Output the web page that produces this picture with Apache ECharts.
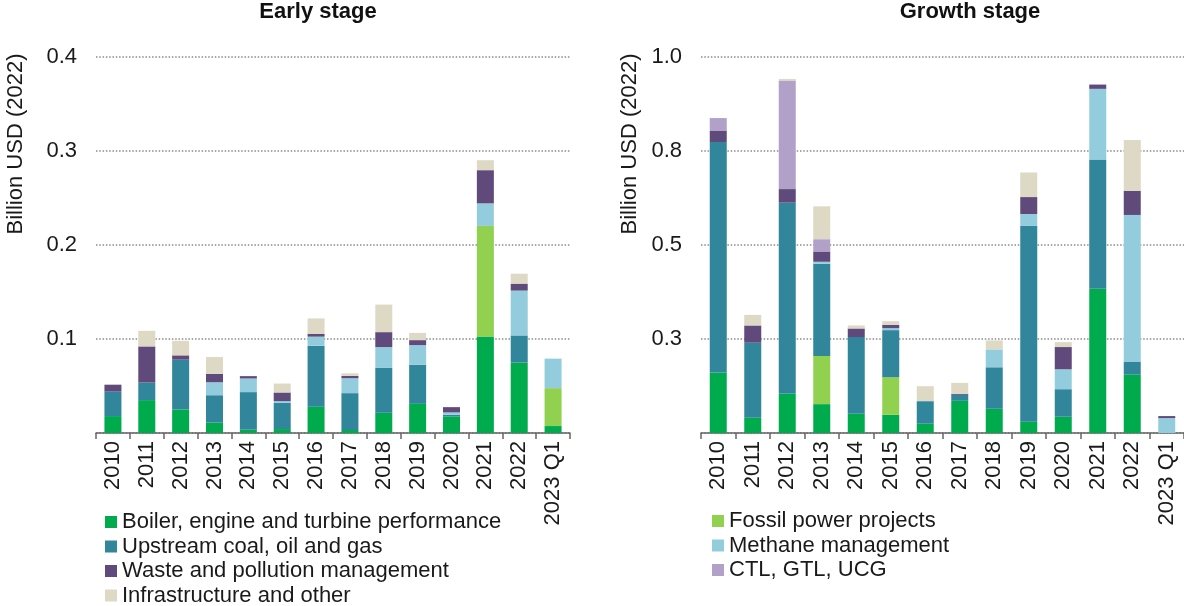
<!DOCTYPE html>
<html>
<head>
<meta charset="utf-8">
<script src="https://cdn.jsdelivr.net/npm/echarts@6/dist/echarts.min.js"></script>
<style>
html,body{margin:0;padding:0;background:#fff;}
#chart{width:1184px;height:606px;}
</style>
</head>
<body>
<div id="chart"></div>
<script>
var categories = ['2010','2011','2012','2013','2014','2015','2016','2017','2018','2019','2020','2021','2022','2023 Q1'];

var seriesNames = [
  'Boiler, engine and turbine performance',
  'Fossil power projects',
  'Upstream coal, oil and gas',
  'Methane management',
  'Waste and pollution management',
  'CTL, GTL, UCG',
  'Infrastructure and other'
];
var seriesColors = ['#00ab4e','#92d050','#31869b','#93cddd','#604a7b','#b1a0c7','#ddd9c4'];

var leftLegendNames = ['Boiler, engine and turbine performance','Upstream coal, oil and gas','Waste and pollution management','Infrastructure and other'];
var rightLegendNames = ['Fossil power projects','Methane management','CTL, GTL, UCG'];

var leftTickLabels = ['', '0.1', '0.2', '0.3', '0.4'];
var rightTickLabels = ['', '0.3', '0.5', '0.8', '1.0'];

// Early stage (billion USD 2022)
var earlyBoiler   = [0.018, 0.035, 0.025, 0.011, 0.0035, 0.0042, 0.028, 0.0032, 0.0215, 0.031, 0.0177, 0.1027, 0.0748, 0.0074];
var earlyFossil   = [0, 0, 0, 0, 0, 0, 0, 0, 0, 0, 0, 0.1176, 0, 0.0403];
var earlyUpstream = [0.026, 0.0187, 0.053, 0.0292, 0.040, 0.0279, 0.0649, 0.0392, 0.0477, 0.0416, 0.0017, 0, 0.029, 0];
var earlyMethane  = [0, 0, 0, 0.0138, 0.0145, 0.0018, 0.0096, 0.0159, 0.0222, 0.0209, 0.0025, 0.024, 0.0477, 0.0314];
var earlyWaste    = [0.0074, 0.0384, 0.0046, 0.0088, 0.0025, 0.0092, 0.0028, 0.0024, 0.0159, 0.0053, 0.0056, 0.0353, 0.0074, 0];
var earlyCtl      = [0, 0, 0, 0, 0, 0, 0, 0, 0, 0, 0, 0, 0, 0];
var earlyInfra    = [0, 0.0166, 0.0155, 0.018, 0, 0.0095, 0.0166, 0.0028, 0.0293, 0.0077, 0, 0.0106, 0.0106, 0];

// Growth stage (billion USD 2022)
var growthBoiler   = [0.1606, 0.0406, 0.1041, 0.0768, 0.0512, 0.0485, 0.0247, 0.0856, 0.0644, 0.030, 0.0432, 0.3839, 0.1553, 0];
var growthFossil   = [0, 0, 0, 0.128, 0, 0.0998, 0, 0, 0, 0, 0, 0, 0, 0];
var growthUpstream = [0.6134, 0.1995, 0.5084, 0.2453, 0.2039, 0.1253, 0.060, 0.0159, 0.1104, 0.5207, 0.0733, 0.3434, 0.0336, 0];
var growthMethane  = [0, 0, 0, 0.0053, 0, 0.0053, 0, 0, 0.0476, 0.0318, 0.053, 0.188, 0.391, 0.0397];
var growthWaste    = [0.0292, 0.0459, 0.0362, 0.0274, 0.0229, 0.0088, 0, 0.0026, 0, 0.045, 0.0591, 0.0114, 0.0644, 0.0053];
var growthCtl      = [0.0344, 0, 0.2886, 0.0326, 0, 0, 0, 0, 0, 0, 0, 0, 0, 0];
var growthInfra    = [0, 0.0282, 0.0044, 0.0874, 0.008, 0.0097, 0.0397, 0.0292, 0.0238, 0.0654, 0.0132, 0, 0.135, 0];

var earlyData = [earlyBoiler, earlyFossil, earlyUpstream, earlyMethane, earlyWaste, earlyCtl, earlyInfra];
var growthData = [growthBoiler, growthFossil, growthUpstream, growthMethane, growthWaste, growthCtl, growthInfra];

var FONT = '"Liberation Sans", Arial, Helvetica, sans-serif';
var TXT = '#1a1a1a';

function makeX(gridIndex) {
  return {
    type: 'category', gridIndex: gridIndex, data: categories,
    axisLine: { show: true, lineStyle: { color: '#666', width: 1.5 } },
    axisTick: { show: true, alignWithLabel: false, length: 6, lineStyle: { color: '#666', width: 1.5 } },
    axisLabel: { interval: 0, rotate: 90, margin: 8, fontSize: 22, fontFamily: FONT, color: TXT },
    splitLine: { show: false }
  };
}
function makeY(gridIndex, max, interval, labels) {
  return {
    type: 'value', gridIndex: gridIndex, min: 0, max: max, interval: interval,
    axisLine: { show: false }, axisTick: { show: false },
    axisLabel: {
      margin: 19, fontSize: 22, fontFamily: FONT, color: TXT,
      formatter: function (v) { var i = Math.round(v / interval); return labels[i] !== undefined ? labels[i] : ''; }
    },
    splitLine: { show: true, lineStyle: { color: '#8a8a8a', width: 1.5, type: [1.5, 1.8] } }
  };
}

var series = [];
seriesNames.forEach(function (name, k) {
  series.push({
    name: name, type: 'bar', stack: 'early', xAxisIndex: 0, yAxisIndex: 0,
    barWidth: 17, data: earlyData[k],
    itemStyle: { color: seriesColors[k] }
  });
});
seriesNames.forEach(function (name, k) {
  series.push({
    name: name, type: 'bar', stack: 'growth', xAxisIndex: 1, yAxisIndex: 1,
    barWidth: 17, data: growthData[k],
    itemStyle: { color: seriesColors[k] }
  });
});

var legendCommon = {
  orient: 'vertical', itemWidth: 12, itemHeight: 12, itemGap: 2.5,
  icon: 'rect', padding: 0, height: 160,
  textStyle: { fontSize: 22, fontFamily: FONT, color: TXT, lineHeight: 22 },
  selectedMode: false
};

var chart = echarts.init(document.getElementById('chart'), null, { renderer: 'canvas' });
chart.setOption({
  animation: false,
  backgroundColor: '#ffffff',
  textStyle: { fontFamily: FONT },
  title: [
    { text: 'Early stage', left: 318, top: 1, textAlign: 'center', padding: 0,
      textStyle: { fontSize: 22, fontWeight: 'bold', fontFamily: FONT, color: '#111' } },
    { text: 'Growth stage', left: 970, top: 1, textAlign: 'center', padding: 0,
      textStyle: { fontSize: 22, fontWeight: 'bold', fontFamily: FONT, color: '#111' } }
  ],
  grid: [
    { left: 96, width: 474, top: 57, bottom: 173, containLabel: false },
    { left: 701, right: 0, top: 57, bottom: 173, containLabel: false }
  ],
  xAxis: [makeX(0), makeX(1)],
  yAxis: [makeY(0, 0.4, 0.1, leftTickLabels), makeY(1, 1.0, 0.25, rightTickLabels)],
  legend: [
    Object.assign({}, legendCommon, { data: leftLegendNames, left: 105, top: 511 }),
    Object.assign({}, legendCommon, { data: rightLegendNames, left: 712, top: 510 })
  ],
  graphic: [
    { type: 'text', x: 16, y: 144, rotation: Math.PI / 2,
      style: { text: 'Billion USD (2022)', font: '22px ' + FONT, fill: TXT, align: 'center', verticalAlign: 'middle' } },
    { type: 'text', x: 630, y: 144, rotation: Math.PI / 2,
      style: { text: 'Billion USD (2022)', font: '22px ' + FONT, fill: TXT, align: 'center', verticalAlign: 'middle' } }
  ],
  series: series
});
</script>
</body>
</html>
